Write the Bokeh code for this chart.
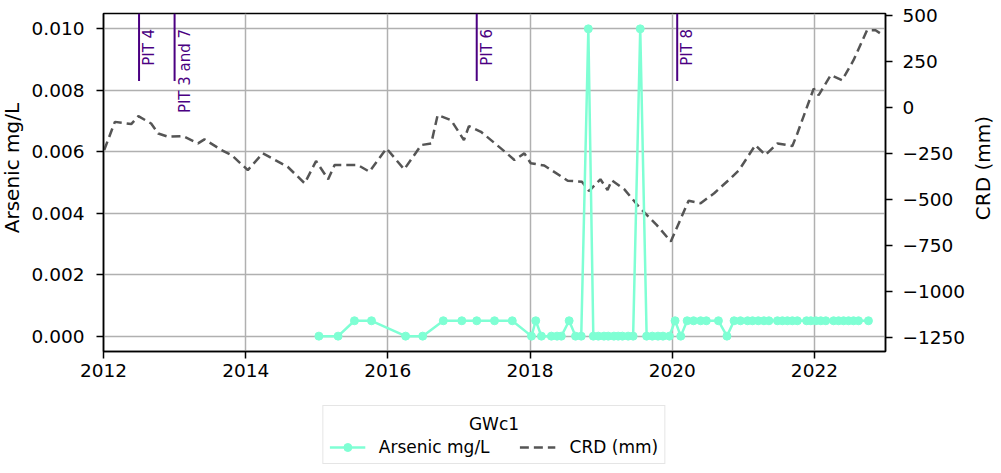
import math
from bokeh.plotting import figure
from bokeh.layouts import column, row
from bokeh.models import (Range1d, LinearAxis, FixedTicker, PrintfTickFormatter,
                          Legend, LegendItem)
from bokeh.core.properties import value
from bokeh.embed import file_html
from bokeh.resources import INLINE

# ---------------- data (decimal years) ----------------
as_years = [2015.03, 2015.30, 2015.53, 2015.77, 2016.25, 2016.49, 2016.78, 2017.04,
            2017.25, 2017.50, 2017.75, 2018.02, 2018.08, 2018.16, 2018.30, 2018.38,
            2018.44, 2018.55, 2018.64, 2018.72, 2018.82, 2018.89, 2018.96, 2019.04,
            2019.10, 2019.18, 2019.24, 2019.30, 2019.38, 2019.45, 2019.55, 2019.64,
            2019.72, 2019.80, 2019.87, 2019.96, 2020.04, 2020.12, 2020.21, 2020.30,
            2020.40, 2020.48, 2020.65, 2020.77, 2020.87, 2020.96, 2021.06, 2021.13,
            2021.21, 2021.29, 2021.36, 2021.48, 2021.55, 2021.62, 2021.69, 2021.76,
            2021.89, 2021.95, 2022.02, 2022.09, 2022.16, 2022.27, 2022.34, 2022.41,
            2022.48, 2022.55, 2022.62, 2022.76]
as_vals = [0, 0, 0.0005, 0.0005, 0, 0, 0.0005, 0.0005,
           0.0005, 0.0005, 0.0005, 0, 0.0005, 0, 0, 0,
           0, 0.0005, 0, 0, 0.01, 0, 0, 0,
           0, 0, 0, 0, 0, 0, 0.01, 0,
           0, 0, 0, 0, 0.0005, 0, 0.0005, 0.0005,
           0.0005, 0.0005, 0.0005, 0, 0.0005, 0.0005, 0.0005, 0.0005,
           0.0005, 0.0005, 0.0005, 0.0005, 0.0005, 0.0005, 0.0005, 0.0005,
           0.0005, 0.0005, 0.0005, 0.0005, 0.0005, 0.0005, 0.0005, 0.0005,
           0.0005, 0.0005, 0.0005, 0.0005]

crd_years = [2012.01, 2012.16, 2012.39, 2012.49, 2012.67, 2012.77, 2012.91, 2013.12,
             2013.33, 2013.42, 2013.66, 2013.80, 2014.03, 2014.24, 2014.59, 2014.83,
             2014.99, 2015.16, 2015.25, 2015.58, 2015.74, 2015.98, 2016.23, 2016.47,
             2016.61, 2016.70, 2016.89, 2017.07, 2017.14, 2017.31, 2017.59, 2017.78,
             2017.92, 2018.01, 2018.20, 2018.53, 2018.73, 2018.83, 2018.99, 2019.09,
             2019.15, 2019.33, 2019.53, 2019.78, 2019.98, 2020.23, 2020.40, 2020.59,
             2020.82, 2020.94, 2021.17, 2021.31, 2021.48, 2021.69, 2021.76, 2021.99,
             2022.06, 2022.23, 2022.39, 2022.55, 2022.74, 2022.86, 2022.93]
crd_vals = [-233, -80, -92, -49, -89, -143, -161, -157,
            -197, -175, -233, -260, -342, -251, -324, -414,
            -293, -392, -315, -315, -351, -224, -338, -206,
            -197, -43, -71, -179, -103, -134, -224, -287,
            -251, -305, -317, -400, -405, -456, -392, -450,
            -398, -448, -541, -640, -730, -509, -522, -468,
            -387, -342, -206, -260, -197, -211, -143, 101,
            65, 174, 146, 255, 418, 418, 400]

pit_years = [2012.5, 2013.0, 2017.25, 2020.07]
pit_labels = ["PIT 4", "PIT 3 and 7", "PIT 6", "PIT 8"]

x_ticks = [2012, 2014, 2016, 2018, 2020, 2022]
as_ticks = [0.0, 0.002, 0.004, 0.006, 0.008, 0.010]
crd_ticks = [-1250, -1000, -750, -500, -250, 0, 250, 500]

legend_title = "GWc1"
as_label = "Arsenic mg/L"
crd_label = "CRD (mm)"

# ---------------- styles / layout ----------------
FONT = "DejaVu Sans"
AS_COLOR = "#7fffd4"
CRD_COLOR = "#555555"
PIT_COLOR = "#4b0082"
Y0, Y1 = -0.0005, 0.0105
W = 1001
LEFT_W, RIGHT_W = 28, 31          # strips holding the rotated axis titles
MAIN_H, LEG_H = 398, 75
TOP, FRAME_H = 13, 338
MID_Y = 1 - (TOP + FRAME_H / 2) / MAIN_H   # vertical centre of the frame, strip units


def blank(width, height, **kw):
    f = figure(width=width, height=height, output_backend="svg", toolbar_location=None,
               x_range=Range1d(0, 1), y_range=Range1d(0, 1),
               min_border_left=0, min_border_right=0, min_border_top=0,
               min_border_bottom=0, **kw)
    f.axis.visible = False
    f.grid.visible = False
    f.outline_line_color = None
    return f


# ---------------- main figure ----------------
p = figure(width=W - LEFT_W - RIGHT_W, height=MAIN_H, output_backend="svg",
           toolbar_location=None,
           x_range=Range1d(2012, 2023), y_range=Range1d(Y0, Y1),
           min_border_left=102 - LEFT_W, min_border_right=(W - RIGHT_W) - 885,
           min_border_top=TOP, min_border_bottom=MAIN_H - TOP - FRAME_H)
p.extra_y_ranges = {"crd": Range1d(-1328, 509)}
p.background_fill_color = "white"
p.outline_line_color = "black"
p.outline_line_width = 1.5

p.xgrid.ticker = FixedTicker(ticks=x_ticks)
p.ygrid.ticker = FixedTicker(ticks=as_ticks)
for g in (p.xgrid, p.ygrid):
    g.grid_line_color = "#b0b0b0"
    g.grid_line_width = 1.5


def style_axis(ax):
    ax.axis_line_color = "black"
    ax.axis_line_width = 1.5
    ax.major_tick_line_color = "black"
    ax.major_tick_line_width = 1.5
    ax.major_tick_out = 7
    ax.major_tick_in = 0
    ax.minor_tick_line_color = None
    ax.major_label_text_font = FONT
    ax.major_label_text_font_size = "18.5px"
    ax.major_label_text_color = "black"


xa = p.xaxis[0]
xa.ticker = FixedTicker(ticks=x_ticks)
xa.formatter = PrintfTickFormatter(format="%d")
style_axis(xa)
xa.major_label_standoff = 5

ya = p.yaxis[0]
ya.ticker = FixedTicker(ticks=as_ticks)
ya.formatter = PrintfTickFormatter(format="%.3f")
style_axis(ya)
ya.major_label_standoff = 12

ra = LinearAxis(y_range_name="crd", ticker=FixedTicker(ticks=crd_ticks),
                major_label_overrides={t: str(t).replace("-", "\u2212") for t in crd_ticks})
style_axis(ra)
ra.major_label_standoff = 10
p.add_layout(ra, "right")

# PIT markers
seg_bottom = Y0 + 0.8 * (Y1 - Y0)
p.segment(x0=pit_years, y0=[seg_bottom] * len(pit_years), x1=pit_years,
          y1=[Y1] * len(pit_years), line_color=PIT_COLOR, line_width=2)
p.text(x=pit_years, y=[0.0100] * len(pit_years), text=pit_labels, angle=math.pi / 2,
       x_offset=1, text_align="right", text_baseline="top",
       text_color=PIT_COLOR, text_font=value(FONT), text_font_size="15px")

# series
p.line(crd_years, crd_vals, y_range_name="crd", line_color=CRD_COLOR,
       line_width=2.5, line_dash="9 5")
p.line(as_years, as_vals, line_color=AS_COLOR, line_width=2.5)
p.scatter(as_years, as_vals, size=8, fill_color=AS_COLOR, line_color=AS_COLOR)

# ---------------- axis-title strips ----------------
ls = blank(LEFT_W, MAIN_H)
ls.text(x=[0.42], y=[MID_Y], text=[as_label], angle=math.pi / 2,
        text_align="center", text_baseline="middle", text_color="black",
        text_font=value(FONT), text_font_size="20px")

rs = blank(RIGHT_W, MAIN_H)
rs.text(x=[0.4], y=[MID_Y], text=[crd_label], angle=math.pi / 2,
        text_align="center", text_baseline="middle", text_color="black",
        text_font=value(FONT), text_font_size="20px")

# ---------------- legend strip ----------------
lf = figure(width=W, height=LEG_H, output_backend="svg", toolbar_location=None,
            x_range=Range1d(0, 1), y_range=Range1d(0, 1),
            min_border_left=102, min_border_right=W - 885, min_border_top=0,
            min_border_bottom=0)
lf.axis.visible = False
lf.grid.visible = False
lf.outline_line_color = None

# legend proxies (a single NaN point each: nothing is drawn, only the legend swatch)
nan = [float("nan")]
k_line = lf.line(nan, nan, line_color=AS_COLOR, line_width=2.5)
k_pts = lf.scatter(nan, nan, size=8, fill_color=AS_COLOR, line_color=AS_COLOR)
k_crd = lf.line(nan, nan, line_color=CRD_COLOR, line_width=2.5, line_dash="9 5")

# centred legend title (drawn beneath a transparent legend box)
lf.text(x=[0.5], y=[1 - 25 / LEG_H], text=[legend_title], text_align="center",
        text_baseline="middle", text_color="black", text_font=value(FONT),
        text_font_size="17px")

legend = Legend(items=[LegendItem(label=as_label, renderers=[k_line, k_pts]),
                       LegendItem(label=crd_label, renderers=[k_crd])],
                orientation="horizontal", location="top_center",
                title="\u00a0", title_text_font=FONT, title_text_font_size="17px",
                title_text_font_style="normal",
                label_text_font=FONT, label_text_font_size="17px",
                label_text_color="black",
                glyph_width=36, glyph_height=20, label_standoff=14, spacing=30,
                padding=6, margin=7, border_line_color="#cccccc",
                border_line_width=1.5, background_fill_alpha=0.0)
lf.add_layout(legend, "center")

layout = column(row(ls, p, rs, spacing=0), lf, spacing=0)
open("out.html", "w").write(file_html(layout, INLINE))
